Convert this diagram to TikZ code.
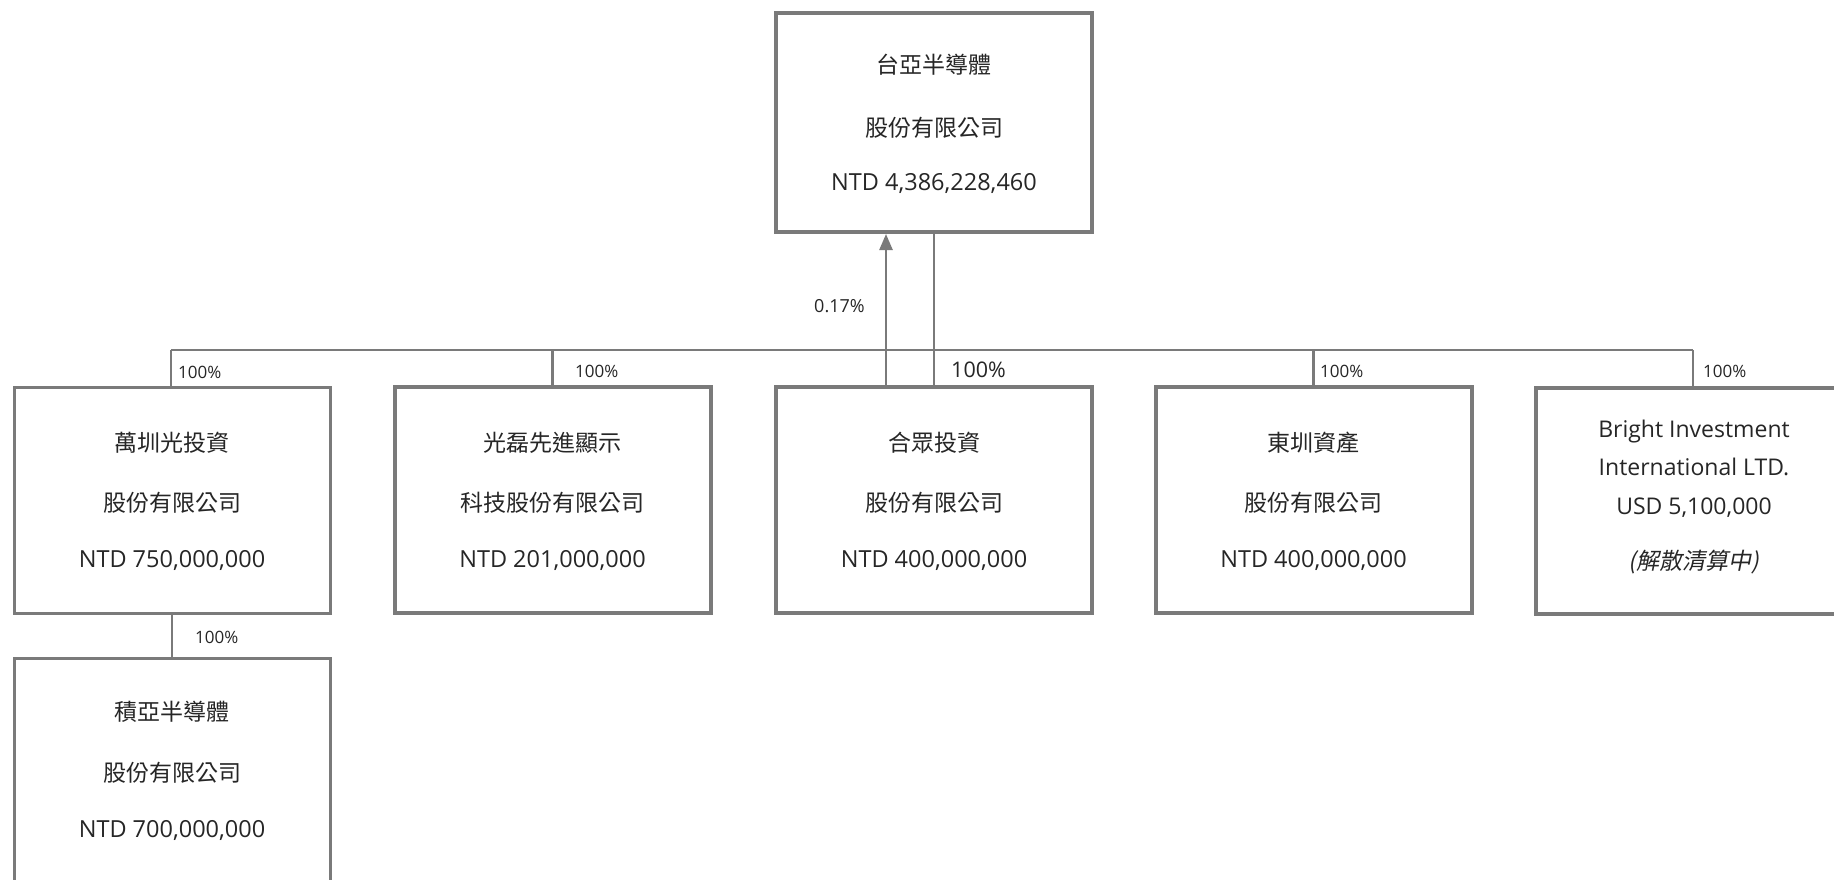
\documentclass[tikz,border=0pt]{standalone}
\usepackage{fontspec}
\setmainfont{Open Sans}
\newfontfamily\cjk{Noto Sans CJK TC}
\newfontfamily\cjkit{Noto Sans CJK TC}[FakeSlant=0.2]
\usetikzlibrary{arrows.meta}
\definecolor{linegray}{HTML}{7A7A7A}
\definecolor{txt}{HTML}{262626}
\tikzset{
  cbox/.style={draw=linegray, line width=4pt, fill=white, minimum width=316pt, minimum height=226pt, inner sep=0pt},
  conn/.style={draw=linegray, line width=2.5pt},
  cjkline/.style={text=txt, font=\cjk\fontsize{23}{26}\selectfont, inner sep=0pt},
  numline/.style={text=txt, font=\fontsize{23.5}{27}\selectfont, inner sep=0pt},
  pct/.style={text=txt, font=\fontsize{17}{20}\selectfont, inner sep=0pt, anchor=west},
}
\begin{document}
\begin{tikzpicture}[x=1pt,y=-1pt]
\clip (0,0) rectangle (1834,879);
\fill[white] (0,0) rectangle (1834,879);

% boxes
\node[cbox, minimum height=219pt] (top) at (934,122.5) {};
\node[cbox, line width=3pt] (b1) at (172,500) {};
\node[cbox] (b2) at (552.5,500) {};
\node[cbox] (b3) at (934,500) {};
\node[cbox] (b4) at (1313.5,500) {};
\node[cbox] (b5) at (1694,501) {};
\node[cbox, line width=3pt] (b6) at (172,771) {};

% bus
\coordinate (busL) at (171,350);
\coordinate (busR) at (1693,350);
\draw[conn] (busL) -- (busR);
\draw[conn] (busL) -- (b1.north -| busL);
\draw[conn] (b2.north |- busL) -- (b2.north);
\draw[conn] (top.south) -- (b3.north);
\draw[conn] (b4.north |- busL) -- (b4.north);
\draw[conn] (busR) -- (b5.north -| busR);
\draw[conn] (b1.south) -- (b6.north);
\coordinate (arrB) at (886,387);
\draw[conn, -{Triangle[length=16pt,width=13pt]}] (arrB) -- (arrB |- top.south);

% labels
\node[pct] (p1) at (178,372) {100\%};
\node[pct] (p2) at (575,371) {100\%};
\node[pct, font=\fontsize{21.5}{24}\selectfont] (p3) at (951,370) {100\%};
\node[pct] (p4) at (1320,371) {100\%};
\node[pct] (p5) at (1703,371) {100\%};
\node[pct] (p6) at (195,637) {100\%};
\node[pct, font=\fontsize{18}{21}\selectfont] (p7) at (814,306) {0.17\%};

% top box text
\node[cjkline] (t1) at (934,65) {台亞半導體};
\node[cjkline] (t2) at (934,128) {股份有限公司};
\node[numline] (t3) at (934,183) {NTD 4,386,228,460};

% box1
\node[cjkline] (a1) at (172,443) {萬圳光投資};
\node[cjkline] (a2) at (172,503) {股份有限公司};
\node[numline] (a3) at (172,560) {NTD 750,000,000};

% box2
\node[cjkline] (c1) at (552.5,443) {光磊先進顯示};
\node[cjkline] (c2) at (552.5,503) {科技股份有限公司};
\node[numline] (c3) at (552.5,560) {NTD 201,000,000};

% box3
\node[cjkline] (d1) at (934,443) {合眾投資};
\node[cjkline] (d2) at (934,503) {股份有限公司};
\node[numline] (d3) at (934,560) {NTD 400,000,000};

% box4
\node[cjkline] (e1) at (1313.5,443) {東圳資產};
\node[cjkline] (e2) at (1313.5,503) {股份有限公司};
\node[numline] (e3) at (1313.5,560) {NTD 400,000,000};

% box5
\node[numline, font=\fontsize{23}{26}\selectfont] (f1) at (1694,432) {Bright Investment};
\node[numline, font=\fontsize{23}{26}\selectfont] (f2) at (1694,467) {International LTD.};
\node[numline, font=\fontsize{23}{26}\selectfont] (f3) at (1694,508) {USD 5,100,000};
\node[cjkline, font=\cjkit\fontsize{23}{26}\selectfont] (f4) at (1694,562) {(解散清算中)};

% box6
\node[cjkline] (g1) at (172,712) {積亞半導體};
\node[cjkline] (g2) at (172,773) {股份有限公司};
\node[numline] (g3) at (172,830) {NTD 700,000,000};
\end{tikzpicture}
\end{document}
